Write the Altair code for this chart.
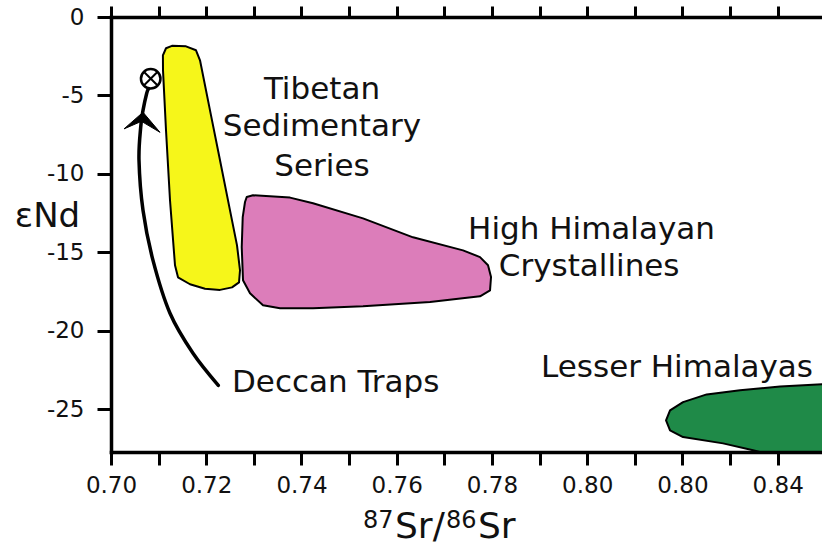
import altair as alt
import pandas as pd

FONT = "DejaVu Sans"
INK = "#111111"

# ---- isotope fields: outline vertices (87Sr/86Sr, εNd) ----
tss_sr = [0.7109, 0.71155, 0.7128, 0.71575, 0.71785, 0.71869, 0.72079, 0.72289,
          0.72499, 0.72646, 0.72709, 0.72688, 0.72541, 0.72289, 0.71974, 0.71659,
          0.71407, 0.71344, 0.71239, 0.71155, 0.71092]
tss_nd = [-2.44, -1.99, -1.84, -1.87, -2.12, -2.76, -5.95, -9.13,
          -12.32, -14.55, -16.14, -16.91, -17.23, -17.39, -17.32, -17.03,
          -16.59, -15.82, -11.68, -7.22, -3.40]

hhc_sr = [0.7285, 0.72982, 0.73759, 0.74242, 0.75292, 0.76342, 0.77392, 0.77749,
          0.77917, 0.7798, 0.77959, 0.77749, 0.76699, 0.75292, 0.74242, 0.73549,
          0.73192, 0.72919, 0.72772, 0.72745, 0.72766, 0.72814]
hhc_nd = [-11.47, -11.36, -11.51, -11.87, -12.83, -14.04, -14.87, -15.30,
          -15.82, -16.57, -17.42, -17.80, -18.16, -18.44, -18.56, -18.56,
          -18.37, -17.61, -16.78, -14.66, -12.75, -11.79]

lh_sr = [0.86, 0.8493, 0.84049, 0.83209, 0.82509, 0.82012, 0.81739, 0.81655,
         0.81739, 0.82012, 0.82852, 0.83482, 0.84658, 0.86]
lh_nd = [-23.35, -23.41, -23.54, -23.79, -24.05, -24.54, -25.07, -25.70,
         -26.34, -26.77, -27.17, -27.61, -28.5, -28.5]

# Deccan Traps mixing path and its arrowhead
dt_sr = [0.72253, 0.71722, 0.71239, 0.70882, 0.70672, 0.70588, 0.70624, 0.70672, 0.7075, 0.70787]
dt_nd = [-23.47, -21.43, -18.88, -15.51, -12.32, -9.13, -7.01, -5.95, -4.86, -4.58]
arrow_sr = [0.70672, 0.70273, 0.7064, 0.71029]
arrow_nd = [-6.07, -7.13, -6.65, -7.35]

# Deccan Traps composition
dt_point_sr = [0.70834]
dt_point_nd = [-3.93]

# field labels
centered_text = ["Tibetan", "Sedimentary", "Series", "High Himalayan", "Crystallines"]
centered_sr = [0.7443, 0.7443, 0.7443, 0.8009, 0.8004]
centered_nd = [-4.64, -7.03, -9.58, -13.55, -15.95]
left_text = ["Deccan Traps", "Lesser Himalayas"]
left_sr = [0.7254, 0.7903]
left_nd = [-23.34, -22.39]

# axes
x_ticks = [round(0.70 + 0.01 * i, 2) for i in range(15)]
x_labels = ["0.70", "0.72", "0.74", "0.76", "0.78", "0.80", "0.80", "0.84"]
y_ticks = [0, -5, -10, -15, -20, -25]

X_DOMAIN = [0.70, 0.8493]
Y_DOMAIN = [-27.72, 0]

xs = alt.Scale(domain=X_DOMAIN, nice=False, zero=False)
ys = alt.Scale(domain=Y_DOMAIN, nice=False, zero=False)

labels_js = "[" + ",".join(f"'{s}'" for s in x_labels) + "]"
x_label_expr = (f"round((datum.value - 0.7) * 100) % 2 == 0 ? "
                f"{labels_js}[round((datum.value - 0.7) * 50)] : ''")

common_axis = dict(domainColor="black", domainWidth=3.5, domainCap="square",
                   tickColor="black", tickWidth=3, grid=False, zindex=1,
                   labelFont=FONT, labelColor=INK)

x_bottom = alt.Axis(orient="bottom", values=x_ticks, labelExpr=x_label_expr,
                    title=None, tickSize=13, labelFontSize=23, labelPadding=9,
                    labelFlush=False, labelOverlap=False, **common_axis)
x_top = alt.Axis(orient="top", values=x_ticks, labels=False, title=None,
                 tickSize=11, **common_axis)
y_axis = alt.Axis(values=y_ticks, labelExpr="'' + datum.value", tickSize=14,
                  labelFontSize=23, labelPadding=13, labelOverlap=False,
                  title="εNd", titleAngle=0, titleX=-64, titleY=209,
                  titleAlign="center", titleBaseline="alphabetic",
                  titleFont=FONT, titleFontSize=34, titleFontWeight="normal",
                  titleColor=INK, **common_axis)


def xy(x_axis=None):
    return dict(
        x=alt.X("sr:Q", scale=xs, axis=x_axis),
        y=alt.Y("nd:Q", scale=ys, axis=y_axis),
    )


def field(sr, nd, fill, x_axis=None):
    df = pd.DataFrame({"sr": sr, "nd": nd, "i": list(range(len(sr)))})
    return alt.Chart(df).mark_line(
        fill=fill, stroke="black", strokeWidth=2, strokeJoin="round",
        interpolate="linear-closed", clip=True,
    ).encode(order="i:Q", **xy(x_axis))


tss = field(tss_sr, tss_nd, "#F6F61A", x_bottom)
hhc = field(hhc_sr, hhc_nd, "#DC7DBA", x_top)
lh = field(lh_sr, lh_nd, "#1F8A48")

path_df = pd.DataFrame({"sr": dt_sr, "nd": dt_nd, "i": list(range(len(dt_sr)))})
path = alt.Chart(path_df).mark_line(
    color="black", strokeWidth=3.5, interpolate="cardinal", strokeCap="round"
).encode(order="i:Q", **xy())

arrow_df = pd.DataFrame({"sr": arrow_sr, "nd": arrow_nd, "i": list(range(len(arrow_sr)))})
arrow = alt.Chart(arrow_df).mark_line(
    fill="black", stroke="black", strokeWidth=1, interpolate="linear-closed"
).encode(order="i:Q", **xy())

point_df = pd.DataFrame({"sr": dt_point_sr, "nd": dt_point_nd})
ring = alt.Chart(point_df).mark_point(
    shape="circle", size=380, filled=False, color="black", strokeWidth=2.5, opacity=1
).encode(**xy())

# crossed symbol inside the ring
dx, dy = 0.00145, 0.44
cross_df = pd.DataFrame({
    "sr": [dt_point_sr[0] - dx, dt_point_sr[0] - dx],
    "sr2": [dt_point_sr[0] + dx, dt_point_sr[0] + dx],
    "nd": [dt_point_nd[0] + dy, dt_point_nd[0] - dy],
    "nd2": [dt_point_nd[0] - dy, dt_point_nd[0] + dy],
})
cross = alt.Chart(cross_df).mark_rule(color="black", strokeWidth=2).encode(
    x2="sr2:Q", y2="nd2:Q", **xy())

centered_df = pd.DataFrame({"label": centered_text, "sr": centered_sr, "nd": centered_nd})
centered = alt.Chart(centered_df).mark_text(
    font=FONT, fontSize=31, color=INK, align="center", baseline="middle"
).encode(text="label:N", **xy())

left_df = pd.DataFrame({"label": left_text, "sr": left_sr, "nd": left_nd})
left = alt.Chart(left_df).mark_text(
    font=FONT, fontSize=31, color=INK, align="left", baseline="middle"
).encode(text="label:N", **xy())

# x-axis title 87Sr/86Sr built from superscript and normal-size pieces
title_df = pd.DataFrame({"t": [0]})


def title_piece(text, px, py, size):
    return alt.Chart(title_df).mark_text(
        text=text, font=FONT, fontSize=size, color=INK,
        align="left", baseline="alphabetic",
    ).encode(x=alt.value(px), y=alt.value(py))


x_title = [
    title_piece("87", 252, 511, 24),
    title_piece("Sr/", 284, 521, 36),
    title_piece("86", 335, 511, 24),
    title_piece("Sr", 367, 521, 36),
]

chart = alt.layer(
    tss, hhc, lh, path, arrow, ring, cross, centered, left, *x_title
).properties(
    width=711, height=435,
    autosize=alt.AutoSizeParams(type="none"),
    padding={"left": 111, "top": 17, "right": 0, "bottom": 93},
    background="white",
).resolve_axis(x="independent").configure_view(stroke=None)

chart.save("out.html", embed_options={"renderer": "svg", "actions": False})
